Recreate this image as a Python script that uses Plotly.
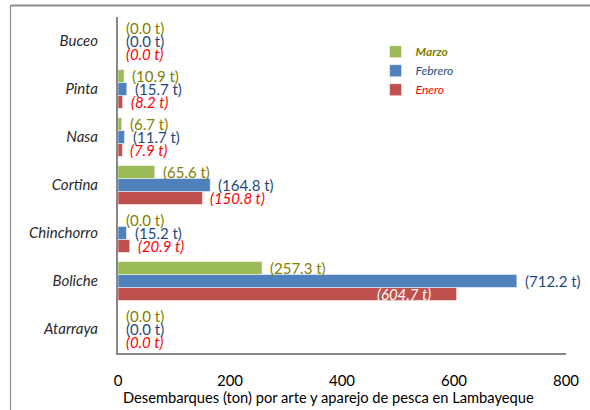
import plotly.graph_objects as go

categories = ["Atarraya", "Boliche", "Chinchorro", "Cortina", "Nasa", "Pinta", "Buceo"]
enero = [0.0, 604.7, 20.9, 150.8, 7.9, 8.2, 0.0]
febrero = [0.0, 712.2, 15.2, 164.8, 11.7, 15.7, 0.0]
marzo = [0.0, 257.3, 0.0, 65.6, 6.7, 10.9, 0.0]
x_ticks = [0, 200, 400, 600, 800]
x_title = "Desembarques (ton) por arte y aparejo de pesca en Lambayeque"

FONT = "Lato"
series = [
    ("Enero", enero, "#C0504D", "#FF0000", True, -13, 3),
    ("Febrero", febrero, "#4F81BD", "#1F497D", False, 0, 2),
    ("Marzo", marzo, "#9BBB59", "#808000", False, 13, 1),
]

fig = go.Figure()
annotations = []
for name, vals, bar_col, txt_col, ital, yshift, rank in series:
    label = f"<i>{name}</i>"
    if name == "Marzo":
        label = f"<b><i>{name}</i></b>"
    fig.add_trace(go.Bar(
        y=categories, x=vals, orientation="h",
        name=f"<span style='color:{txt_col}'>{label}</span>",
        legendgroup=name, legendrank=rank,
        marker=dict(color=bar_col, line=dict(color="rgba(255,255,255,0.5)", width=1)),
        hoverinfo="x+y",
    ))
    for c, v in zip(categories, vals):
        txt = f"({v:.1f} t)"
        if ital:
            txt = f"<i>{txt}</i>"
        inside = (name == "Enero" and v > 500)
        annotations.append(dict(
            x=v, y=c, xref="x", yref="y", text=txt, showarrow=False,
            xanchor="right" if inside else "left",
            xshift=-24 if inside else 6,
            yshift=yshift,
            font=dict(family=FONT, size=15, color="white" if inside else txt_col),
        ))

# axis title, placed slightly left of the plot centre as in the reference
annotations.append(dict(
    x=0.47, y=-0.131, xref="paper", yref="paper", text=x_title, showarrow=False,
    xanchor="center", yanchor="middle",
    font=dict(family=FONT, size=14.7, color="black"),
))

fig.update_layout(
    width=590, height=410,
    margin=dict(l=118, r=24, t=17, b=57, pad=0),
    paper_bgcolor="white", plot_bgcolor="white",
    barmode="group", bargap=0.19, bargroupgap=0,
    font=dict(family=FONT, size=13, color="black"),
    annotations=annotations,
    legend=dict(
        x=0.575, y=0.94, xanchor="left", yanchor="top",
        traceorder="normal", tracegroupgap=8,
        font=dict(family=FONT, size=12),
        bgcolor="rgba(0,0,0,0)", itemwidth=30,
    ),
    xaxis=dict(
        range=[0, 800], tickvals=x_ticks, showgrid=False, zeroline=False,
        showline=True, linecolor="#878787", linewidth=2,
        ticks="", ticklabelstandoff=13, automargin=False,
        tickfont=dict(family=FONT, size=15, color="black"),
    ),
    yaxis=dict(
        categoryorder="array", categoryarray=categories,
        showgrid=False, zeroline=False, automargin=False,
        showline=True, linecolor="#878787", linewidth=2,
        ticks="", ticklabelstandoff=15,
        tickfont=dict(family=FONT, size=15, color="#2a2a2a", style="italic", weight="normal"),
    ),
    shapes=[
        dict(type="line", xref="paper", yref="paper",
             x0=(10.5 - 118) / 448, x1=1.2, y0=1 + (17 - 5.5) / 336, y1=1 + (17 - 5.5) / 336,
             line=dict(color="#8C8C8C", width=2)),
        dict(type="line", xref="paper", yref="paper",
             x0=(10.5 - 118) / 448, x1=(10.5 - 118) / 448, y0=1 + (17 - 5.5) / 336, y1=-0.3,
             line=dict(color="#8C8C8C", width=1.2)),
    ],
)

fig.write_html("out.html", config={"displayModeBar": False},
               post_script="document.body.style.margin='0';")
